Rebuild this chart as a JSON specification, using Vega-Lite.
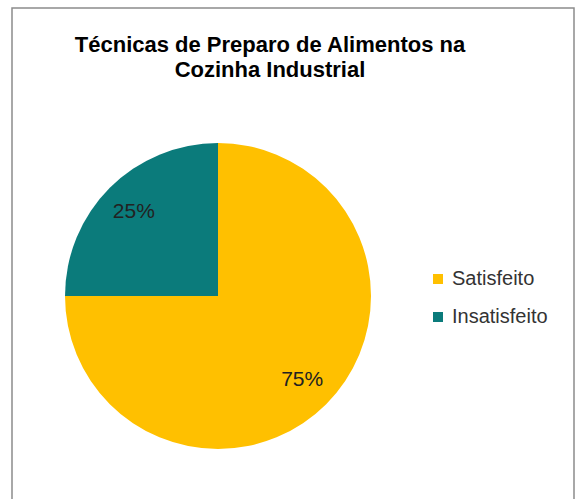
{
  "$schema": "https://vega.github.io/schema/vega-lite/v6.json",
  "autosize": "none",
  "padding": {"left": 12, "top": 8, "right": 3, "bottom": 0},
  "width": 562,
  "height": 496,
  "background": "white",
  "view": {"stroke": "#8c8c8c", "strokeWidth": 1.5, "fill": "white"},
  "config": {
    "font": "Liberation Sans"
  },
  "title": {
    "text": ["Técnicas de Preparo de Alimentos na", "Cozinha Industrial"],
    "anchor": "middle",
    "frame": "group",
    "dx": -23,
    "offset": -74,
    "fontSize": 22,
    "fontWeight": "bold",
    "font": "Liberation Sans",
    "color": "#000000",
    "lineHeight": 25
  },
  "data": {
    "values": [
      {"categoria": "Satisfeito", "valor": 0.75, "ordem": 1},
      {"categoria": "Insatisfeito", "valor": 0.25, "ordem": 2}
    ]
  },
  "encoding": {
    "theta": {"field": "valor", "type": "quantitative", "stack": true},
    "order": {"field": "ordem", "type": "quantitative"}
  },
  "layer": [
    {
      "mark": {"type": "arc", "x": 206, "y": 288, "outerRadius": 153},
      "encoding": {
        "color": {
          "field": "categoria",
          "type": "nominal",
          "scale": {"domain": ["Satisfeito", "Insatisfeito"], "range": ["#FFC000", "#0B7B7B"]},
          "legend": {
            "title": null,
            "orient": "none",
            "legendX": 416,
            "legendY": 261,
            "symbolType": "square",
            "symbolSize": 100,
            "symbolStrokeWidth": 0,
            "labelFontSize": 20,
            "labelFont": "Liberation Sans",
            "labelColor": "#333333",
            "labelOffset": 4,
            "rowPadding": 18
          }
        }
      }
    },
    {
      "mark": {"type": "text", "x": 206, "y": 288, "radius": 119, "fontSize": 21, "font": "Liberation Sans", "color": "#222222"},
      "encoding": {
        "text": {"field": "valor", "type": "quantitative", "format": ".0%"}
      }
    }
  ]
}
